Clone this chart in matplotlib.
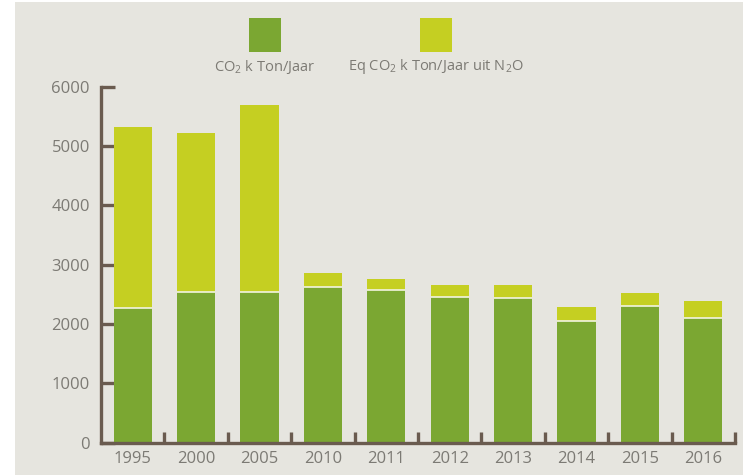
import numpy as np
import matplotlib
matplotlib.use('Agg')
import matplotlib.pyplot as plt
from matplotlib.patches import Rectangle

plt.rcParams['font.family'] = ['Open Sans', 'DejaVu Sans']
plt.rcParams['mathtext.fontset'] = 'custom'
plt.rcParams['mathtext.rm'] = 'Open Sans'
plt.rcParams['mathtext.it'] = 'Open Sans'

######## data (k ton / jaar)
years = ['1995', '2000', '2005', '2010', '2011', '2012', '2013', '2014', '2015', '2016']
co2 = [2270, 2545, 2540, 2630, 2575, 2455, 2435, 2050, 2305, 2105]
totals = [5320, 5220, 5700, 2860, 2765, 2665, 2660, 2295, 2530, 2395]
n2o = [t - c for t, c in zip(totals, co2)]
yTicks = [0, 1000, 2000, 3000, 4000, 5000, 6000]

green = '#7ba732'
lime = '#c5cf22'
bgGray = '#e6e5df'
axisBrown = '#6a5b4f'
textGray = '#7c7a74'

fig = plt.figure(figsize=(7.43, 4.75), dpi=100)
fig.patch.set_facecolor('white')
fig.patches.append(Rectangle((15/743, 0), 1 - 15/743, 1 - 2/475, transform=fig.transFigure,
                             facecolor=bgGray, edgecolor='none', zorder=-10))

ax = fig.add_axes([101/743, 1 - 442.7/475, (735 - 101)/743, (442.7 - 86.7)/475])
ax.set_facecolor('none')

x = np.arange(len(years))
barW = 0.6
ax.bar(x, co2, width=barW, color=green, zorder=2)
ax.bar(x, n2o, width=barW, bottom=co2, color=lime, zorder=2)
# thin light seam between the two stacked parts
ax.hlines(co2, x - barW/2, x + barW/2, colors='#f2f4e0', linewidth=1.2, zorder=3)

ax.set_xlim(-0.5, len(years) - 0.5)
ax.set_ylim(0, 6000)

for s in ['top', 'right']:
    ax.spines[s].set_visible(False)
for s in ['left', 'bottom']:
    ax.spines[s].set_color(axisBrown)
    ax.spines[s].set_linewidth(2.4)
    ax.spines[s].set_capstyle('projecting')

ax.set_yticks(yTicks)
ax.set_yticklabels([str(v) for v in yTicks])
ax.tick_params(axis='y', direction='in', length=10, width=2.4, color=axisBrown,
               labelcolor=textGray, labelsize=12, pad=8)

ax.set_xticks(x)
ax.set_xticklabels(years)
ax.set_xticks(np.arange(len(years)) + 0.5, minor=True)
ax.tick_params(axis='x', which='major', length=0, labelcolor=textGray, labelsize=12, pad=6)
ax.tick_params(axis='x', which='minor', direction='in', length=8, width=2.4, color=axisBrown)

######## legend (squares above labels)
legendItems = [(green, 'CO$_2$ k Ton/Jaar', 265/743),
               (lime, 'Eq CO$_2$ k Ton/Jaar uit N$_2$O', 436/743)]
for col, lab, cx in legendItems:
    fig.patches.append(Rectangle((cx - 16/743, 1 - 52/475), 32/743, 34/475,
                                 transform=fig.transFigure, facecolor=col, edgecolor='none'))
    fig.text(cx, 1 - 67/475, lab, ha='center', va='center', color=textGray, fontsize=10.5)

fig.savefig('out.png', dpi=100, facecolor=fig.get_facecolor())
